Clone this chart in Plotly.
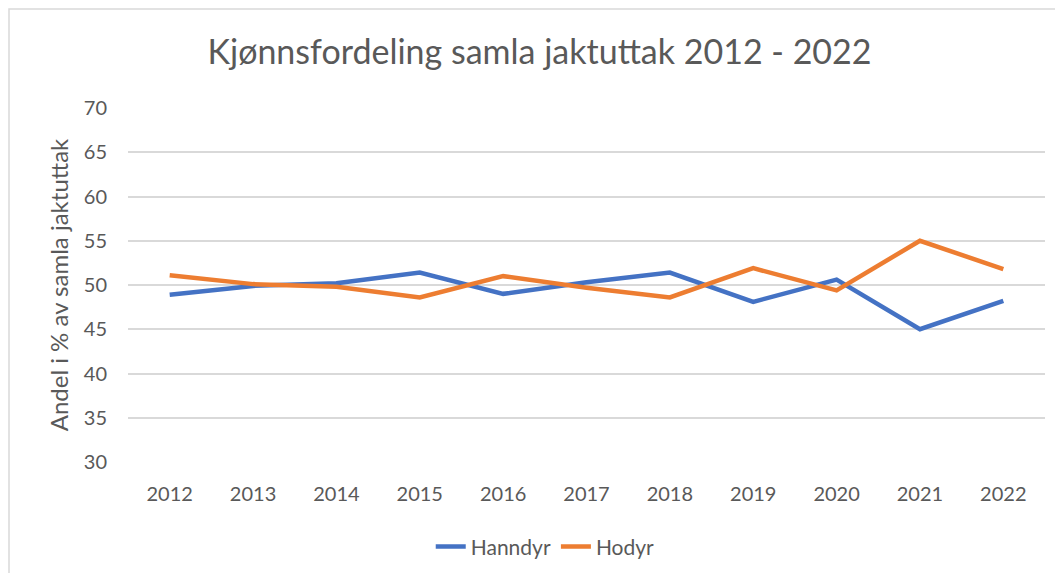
import plotly.graph_objects as go

years = ["2012", "2013", "2014", "2015", "2016", "2017", "2018", "2019", "2020", "2021", "2022"]
hanndyr = [48.9, 49.9, 50.2, 51.4, 49.0, 50.3, 51.4, 48.1, 50.6, 45.0, 48.2]
hodyr = [51.1, 50.1, 49.8, 48.6, 51.0, 49.7, 48.6, 51.9, 49.4, 55.0, 51.8]
y_ticks = [30, 35, 40, 45, 50, 55, 60, 65, 70]

FONT = "Lato, Calibri, 'Noto Sans', sans-serif"
GREY = "#595959"

fig = go.Figure()

fig.add_trace(go.Scatter(
    x=years, y=hanndyr, mode="lines", name="Hanndyr",
    line=dict(color="#4472C4", width=4.5),
))
fig.add_trace(go.Scatter(
    x=years, y=hodyr, mode="lines", name="Hodyr",
    line=dict(color="#ED7D31", width=4.5),
))

# light frame around the whole chart area
fig.add_shape(
    type="rect", xref="paper", yref="paper",
    x0=-119 / 917, x1=1.05, y0=-0.40, y1=1 + 99 / 354,
    line=dict(color="#D9D9D9", width=1.5), layer="below",
)

fig.update_layout(
    width=1063, height=573,
    margin=dict(l=120, r=26, t=100, b=119),
    paper_bgcolor="white", plot_bgcolor="white",
    font=dict(family=FONT, color=GREY),
    title=dict(
        text="Kjønnsfordeling samla jaktuttak 2012 - 2022",
        x=0.5, xanchor="center", y=0.923, yanchor="middle",
        font=dict(size=34, color=GREY, family=FONT),
    ),
    xaxis=dict(
        type="category", range=[-0.5, 10.5], showgrid=False, zeroline=False,
        showline=False, ticks="", automargin=False, ticklabelstandoff=18,
        tickfont=dict(size=20, color=GREY),
    ),
    yaxis=dict(
        range=[30, 70], tickvals=y_ticks, showgrid=True,
        gridcolor="#D9D9D9", gridwidth=1.5, zeroline=False,
        showline=False, ticks="", ticklabelstandoff=20, automargin=False,
        tickfont=dict(size=20, color=GREY),
        title=dict(text="Andel i % av samla jaktuttak", font=dict(size=24, color=GREY), standoff=8),
    ),
    legend=dict(
        orientation="h", x=0.455, xanchor="center", y=-0.24, yanchor="middle",
        font=dict(size=21, color=GREY),
    ),
    showlegend=True,
)

fig.write_html("out.html")
